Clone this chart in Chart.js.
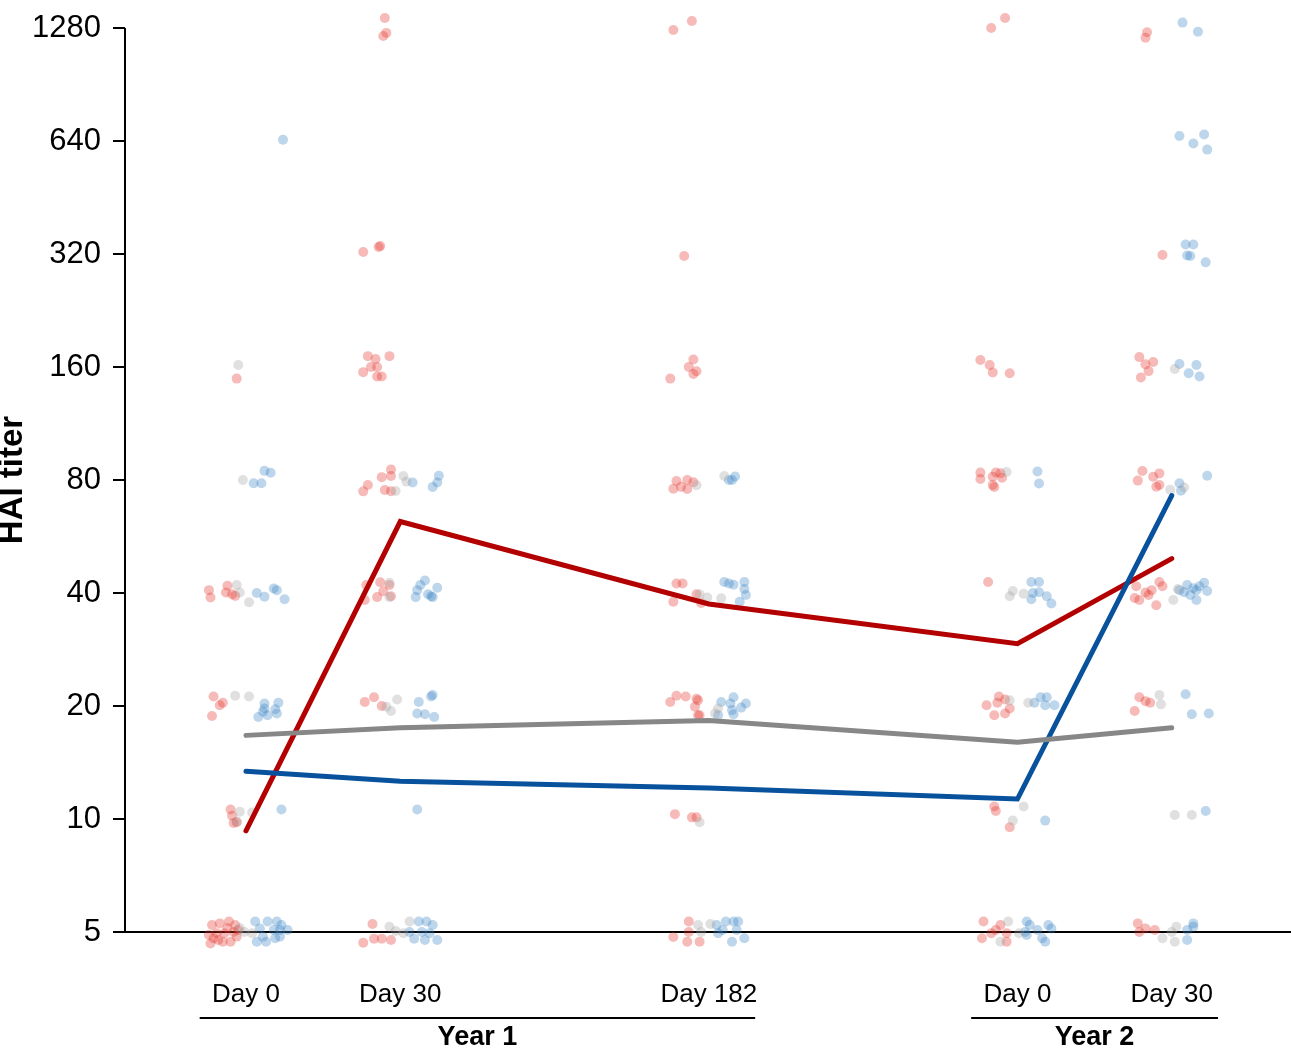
<!DOCTYPE html>
<html>
<head>
<meta charset="utf-8">
<title>HAI titer</title>
<script src="https://cdn.jsdelivr.net/npm/chart.js@4.4.0/dist/chart.umd.min.js"></script>
<style>
    html, body { margin: 0; padding: 0; background: #fff; }
    canvas { display: block; }
</style>
</head>
<body>
<canvas id="titerChart" width="1291" height="1051"></canvas>
<script>
// time points: x position on the axis and label
const positions = [0, 1, 3, 5, 6];
const dayLabels = ['Day 0', 'Day 30', 'Day 182', 'Day 0', 'Day 30'];
const yearGroups = [
    { label: 'Year 1', from: 0, to: 2 },
    { label: 'Year 2', from: 3, to: 4 }
];
const yTicks = [5, 10, 20, 40, 80, 160, 320, 640, 1280];

// geometric mean lines
const redMean = [9.3, 62, 37.4, 29.3, 49.4];
const blueMean = [13.4, 12.6, 12.1, 11.3, 72.7];
const grayMean = [16.7, 17.5, 18.3, 16.0, 17.5];

// individual titers: [time point index, horizontal jitter, titer]
const redDots = [
    [0,-0.22,5.22],[0,-0.17,5.27],[0,-0.11,5.33],[0,-0.07,5.22],[0,-0.24,4.91],[0,-0.19,4.96],[0,-0.14,4.96],[0,-0.08,5.0],
    [0,-0.05,5.06],[0,-0.23,4.66],[0,-0.15,4.71],[0,-0.10,4.71],[0,-0.21,4.81],[0,-0.06,4.86],[0,-0.18,4.76],[0,-0.12,5.12],
    [0,-0.10,10.6],[0,-0.09,10.2],[0,-0.06,9.8],[0,-0.08,9.76],
    [0,-0.21,21.2],[0,-0.17,20.1],[0,-0.15,20.4],[0,-0.22,18.8],
    [0,-0.24,40.7],[0,-0.23,38.9],[0,-0.12,41.8],[0,-0.13,40.1],[0,-0.09,39.7],[0,-0.07,39.3],
    [0,-0.06,149],
    [1,-0.10,1361],[1,-0.09,1242],[1,-0.11,1218],
    [1,-0.24,324],[1,-0.14,334],[1,-0.13,336],
    [1,-0.21,171],[1,-0.16,168],[1,-0.07,171],[1,-0.19,160],[1,-0.15,160],[1,-0.24,155],[1,-0.15,151],[1,-0.12,151],
    [1,-0.06,85.3],[1,-0.06,82],[1,-0.12,81.4],[1,-0.21,77.6],[1,-0.24,74.6],[1,-0.10,75.2],[1,-0.06,74.7],
    [1,-0.22,42.0],[1,-0.23,38.3],[1,-0.13,42.7],[1,-0.15,39.0],[1,-0.11,40.4],[1,-0.07,42.0],[1,-0.06,39.2],
    [1,-0.23,20.5],[1,-0.17,21.1],[1,-0.12,20.0],
    [1,-0.18,5.25],[1,-0.24,4.68],[1,-0.17,4.8],[1,-0.12,4.8],[1,-0.06,4.76],
    [2,-0.23,1264],[2,-0.11,1336],
    [2,-0.16,316],
    [2,-0.10,167.6],[2,-0.13,160],[2,-0.08,155.8],[2,-0.10,153.3],[2,-0.25,149],
    [2,-0.21,79.5],[2,-0.14,80],[2,-0.18,76.7],[2,-0.23,75.8],[2,-0.14,75.7],[2,-0.10,78.9],
    [2,-0.21,42.4],[2,-0.17,42.4],[2,-0.23,37.9],[2,-0.08,39.7],[2,-0.05,37.6],
    [2,-0.25,20.5],[2,-0.21,21.3],[2,-0.15,21.2],[2,-0.08,20.9],[2,-0.07,20.7],[2,-0.09,19.9],[2,-0.07,18.9],[2,-0.06,18.9],
    [2,-0.22,10.3],[2,-0.11,10.1],[2,-0.08,10.1],
    [2,-0.13,5.33],[2,-0.23,4.85],[2,-0.14,4.71],[2,-0.06,4.71],[2,-0.13,5.0],
    [3,-0.17,1280],[3,-0.08,1361],
    [3,-0.24,167],[3,-0.18,162],[3,-0.16,154.6],[3,-0.05,154],
    [3,-0.24,83.7],[3,-0.24,80.5],[3,-0.14,83.8],[3,-0.16,81.6],[3,-0.11,83.4],[3,-0.10,81.1],[3,-0.16,77.6],[3,-0.15,76.6],
    [3,-0.19,42.8],
    [3,-0.12,21.2],[3,-0.20,20.1],[3,-0.13,20.4],[3,-0.08,20.8],[3,-0.05,19.7],[3,-0.15,18.9],[3,-0.08,19.1],
    [3,-0.15,10.8],[3,-0.14,10.5],[3,-0.05,9.5],
    [3,-0.22,5.33],[3,-0.23,4.81],[3,-0.17,4.96],[3,-0.11,5.22],[3,-0.07,4.96],[3,-0.07,4.71],[3,-0.14,5.06],
    [4,-0.16,1247],[4,-0.17,1205],
    [4,-0.06,318],
    [4,-0.21,170],[4,-0.17,162.6],[4,-0.12,165],[4,-0.15,156],[4,-0.20,150],
    [4,-0.19,84.5],[4,-0.22,79.7],[4,-0.12,81.6],[4,-0.08,83.3],[4,-0.10,76.8],[4,-0.08,77.6],
    [4,-0.23,41.7],[4,-0.24,38.8],[4,-0.21,38.3],[4,-0.15,39.5],[4,-0.13,40.7],[4,-0.08,42.8],[4,-0.06,41.7],[4,-0.10,37.1],[4,-0.17,40.1],
    [4,-0.24,19.4],[4,-0.21,21.1],[4,-0.17,20.6],[4,-0.14,20.4],
    [4,-0.22,5.27],[4,-0.21,5.0],[4,-0.17,5.11],[4,-0.11,5.06]
];

const grayDots = [
    [0,-0.01,5.0],[0,0.04,4.96],[0,-0.04,5.12],
    [0,-0.04,10.45],[0,-0.06,9.84],[0,0.04,10.4],
    [0,-0.07,21.3],[0,0.02,21.2],
    [0,-0.06,42.0],[0,-0.04,40.1],[0,0.02,37.8],
    [0,-0.02,80],[0,-0.05,162],
    [1,0.02,82],[1,0.04,79.2],[1,-0.03,74.8],
    [1,-0.07,42.6],[1,-0.07,39.0],
    [1,-0.02,20.8],[1,-0.06,19.4],[1,-0.09,19.9],
    [1,-0.07,5.16],[1,-0.03,5.03],[1,0.06,5.33],[1,0.02,4.96],
    [2,-0.08,77.5],[2,0.10,82],
    [2,-0.06,39.7],[2,-0.01,38.9],[2,0.08,38.7],
    [2,0.04,19.1],[2,0.06,19.7],
    [2,-0.06,9.8],
    [2,-0.07,5.22],[2,0.01,5.25],[2,-0.05,5.0],
    [3,-0.07,84],
    [3,-0.03,40.5],[3,-0.05,39.2],[3,0.04,39.8],
    [3,-0.05,20.7],[3,0.07,20.4],
    [3,0.04,10.8],[3,-0.03,9.9],
    [3,-0.06,5.33],[3,-0.11,4.71],[3,0.01,4.96],
    [4,0.02,158],
    [4,-0.01,75.4],[4,0.08,76.4],
    [4,0.01,38.3],[4,0.04,41.0],
    [4,-0.08,21.4],[4,-0.07,20.2],
    [4,0.02,10.25],[4,0.13,10.25],
    [4,-0.06,4.81],[4,0.0,5.0],[4,0.03,5.16],[4,0.02,4.71]
];

const blueDots = [
    [0,0.06,5.33],[0,0.14,5.33],[0,0.20,5.33],[0,0.23,5.22],[0,0.09,5.11],[0,0.18,5.06],[0,0.22,5.06],[0,0.07,4.71],
    [0,0.13,4.71],[0,0.19,4.81],[0,0.22,4.86],[0,0.11,4.86],[0,0.27,5.06],
    [0,0.23,10.6],
    [0,0.12,20.3],[0,0.12,19.7],[0,0.08,18.7],[0,0.14,18.9],[0,0.19,19.6],[0,0.21,20.4],[0,0.20,19.1],[0,0.11,19.3],
    [0,0.07,40.0],[0,0.12,39.1],[0,0.18,41.1],[0,0.20,40.7],[0,0.25,38.5],
    [0,0.05,78.4],[0,0.10,78.4],[0,0.12,84.6],[0,0.16,83.6],
    [0,0.24,645],
    [1,0.08,78.8],[1,0.21,76.6],[1,0.24,78.8],[1,0.25,82.1],
    [1,0.16,43.2],[1,0.13,42.0],[1,0.11,40.7],[1,0.10,39.0],[1,0.18,39.7],[1,0.21,39.0],[1,0.24,41.3],[1,0.20,39.2],
    [1,0.12,20.5],[1,0.11,19.1],[1,0.16,19.0],[1,0.22,18.7],[1,0.21,21.4],[1,0.20,21.2],
    [1,0.11,10.6],
    [1,0.06,5.0],[1,0.12,5.33],[1,0.17,5.33],[1,0.21,5.22],[1,0.09,4.8],[1,0.16,4.76],[1,0.24,4.76],[1,0.14,5.0],[1,0.19,4.96],
    [2,0.13,80],[2,0.17,81.7],[2,0.15,80],
    [2,0.10,42.8],[2,0.13,42.4],[2,0.16,42.1],[2,0.23,42.8],[2,0.23,41.0],[2,0.24,39.5],[2,0.20,37.9],
    [2,0.08,20.5],[2,0.14,20.3],[2,0.16,21.1],[2,0.15,19.5],[2,0.24,20.3],[2,0.21,19.8],[2,0.06,18.9],[2,0.16,19.0],
    [2,0.05,5.22],[2,0.11,5.33],[2,0.16,5.33],[2,0.19,5.33],[2,0.06,4.96],[2,0.15,4.71],[2,0.23,4.81],[2,0.18,5.06],[2,0.09,5.06],
    [3,0.13,84.3],[3,0.14,78.3],
    [3,0.09,42.8],[3,0.14,42.8],[3,0.10,40.0],[3,0.14,40.2],[3,0.09,38.5],[3,0.19,39.2],[3,0.22,37.5],
    [3,0.11,20.4],[3,0.15,21.1],[3,0.19,21.1],[3,0.18,20.1],[3,0.24,20.1],
    [3,0.18,9.9],
    [3,0.06,5.33],[3,0.08,5.22],[3,0.05,5.0],[3,0.13,5.06],[3,0.20,5.22],[3,0.22,5.11],[3,0.16,4.81],[3,0.18,4.71],[3,0.06,4.91],
    [4,0.07,1323],[4,0.17,1251],
    [4,0.05,660],[4,0.21,666],[4,0.14,630],[4,0.23,607],
    [4,0.09,339],[4,0.14,339],[4,0.10,317],[4,0.12,316],[4,0.22,304],
    [4,0.05,163],[4,0.16,162],[4,0.11,154],[4,0.18,151],
    [4,0.05,78.4],[4,0.06,74.9],[4,0.23,82.1],
    [4,0.05,40.7],[4,0.08,40.2],[4,0.12,39.5],[4,0.16,40.7],[4,0.18,41.7],[4,0.21,42.6],[4,0.10,42.0],[4,0.16,38.3],[4,0.14,41.2],[4,0.23,40.5],
    [4,0.09,21.5],[4,0.13,19.0],[4,0.24,19.1],
    [4,0.22,10.5],
    [4,0.10,5.06],[4,0.14,5.27],[4,0.14,5.16],[4,0.10,4.76]
];

const FONT = '"Liberation Sans", Arial, Helvetica, sans-serif';

function toPoints(dots) {
    return dots.map(d => ({ x: positions[d[0]] + d[1], y: d[2] }));
}

function toLine(values) {
    return values.map((v, i) => ({ x: positions[i], y: v }));
}

function lineSet(values, color) {
    return {
        data: toLine(values),
        showLine: true,
        borderColor: color,
        borderWidth: 5,
        borderCapStyle: 'round',
        borderJoinStyle: 'miter',
        pointRadius: 0,
        order: 0
    };
}

function dotSet(dots, color) {
    return {
        data: toPoints(dots),
        backgroundColor: color,
        borderWidth: 0,
        pointRadius: 5,
        pointHoverRadius: 5,
        clip: false,
        order: 1
    };
}

// axis lines only run from 5 to 1280, the plot area is a bit larger so the jittered dots fit
const axisLines = {
    id: 'axisLines',
    beforeDatasetsDraw(chart) {
        const ctx = chart.ctx;
        const ys = chart.scales.y;
        const area = chart.chartArea;
        const y5 = ys.getPixelForValue(yTicks[0]);
        const yTop = ys.getPixelForValue(yTicks[yTicks.length - 1]);
        ctx.save();
        ctx.strokeStyle = '#000';
        ctx.lineWidth = 2;
        ctx.beginPath();
        ctx.moveTo(area.left, yTop);
        ctx.lineTo(area.left, y5);
        ctx.moveTo(area.left, y5);
        ctx.lineTo(chart.width, y5);
        ctx.stroke();
        ctx.restore();
    }
};

// brackets under the time points and the rotated y title
const annotations = {
    id: 'annotations',
    afterDraw(chart) {
        const ctx = chart.ctx;
        const xs = chart.scales.x;
        const y5 = chart.scales.y.getPixelForValue(yTicks[0]);
        ctx.save();
        ctx.fillStyle = '#000';
        ctx.strokeStyle = '#000';
        ctx.lineWidth = 2;
        ctx.font = 'bold 27px ' + FONT;
        ctx.textAlign = 'center';
        ctx.textBaseline = 'middle';
        yearGroups.forEach(g => {
            const x1 = xs.getPixelForValue(positions[g.from] - 0.3);
            const x2 = xs.getPixelForValue(positions[g.to] + 0.3);
            ctx.beginPath();
            ctx.moveTo(x1, y5 + 86);
            ctx.lineTo(x2, y5 + 86);
            ctx.stroke();
            ctx.fillText(g.label, (x1 + x2) / 2, y5 + 106);
        });

        ctx.translate(22, 480);
        ctx.rotate(-Math.PI / 2);
        ctx.font = 'bold 33px ' + FONT;
        ctx.textBaseline = 'alphabetic';
        ctx.fillText('HAI titer', 0, 0);
        ctx.restore();
    }
};

new Chart(document.getElementById('titerChart'), {
    type: 'scatter',
    data: {
        datasets: [
            lineSet(grayMean, '#878787'),
            lineSet(blueMean, '#08519c'),
            lineSet(redMean, '#b30000'),
            dotSet(grayDots, 'rgba(160, 160, 160, 0.33)'),
            dotSet(blueDots, 'rgba(55, 130, 195, 0.33)'),
            dotSet(redDots, 'rgba(228, 50, 40, 0.33)')
        ]
    },
    options: {
        responsive: false,
        animation: false,
        events: [],
        layout: { autoPadding: false, padding: { top: 8, right: 0, left: 0, bottom: 0 } },
        plugins: {
            legend: { display: false },
            tooltip: { enabled: false }
        },
        scales: {
            x: {
                type: 'linear',
                min: -0.784,
                max: 6.773,
                grid: { display: false },
                border: { display: false },
                ticks: {
                    color: '#000',
                    font: { family: FONT, size: 26 },
                    padding: 17,
                    autoSkip: false,
                    maxRotation: 0,
                    callback: (value) => dayLabels[positions.indexOf(value)]
                },
                afterBuildTicks: (scale) => {
                    scale.ticks = positions.map(p => ({ value: p }));
                },
                afterFit: (scale) => {
                    scale.height = 97;
                    scale.paddingLeft = 0;
                    scale.paddingRight = 0;
                }
            },
            y: {
                type: 'logarithmic',
                min: 4.368,
                max: 1447,
                grid: {
                    display: true,
                    drawOnChartArea: false,
                    drawTicks: true,
                    tickLength: 12,
                    color: '#000',
                    lineWidth: 2
                },
                border: { display: false },
                ticks: {
                    color: '#000',
                    font: { family: FONT, size: 31 },
                    padding: 12,
                    autoSkip: false,
                    callback: (value) => String(value)
                },
                afterBuildTicks: (scale) => {
                    scale.ticks = yTicks.map(v => ({ value: v }));
                },
                afterFit: (scale) => {
                    scale.width = 125;
                    scale.paddingTop = 0;
                    scale.paddingBottom = 0;
                }
            }
        }
    },
    plugins: [axisLines, annotations]
});
</script>
</body>
</html>
